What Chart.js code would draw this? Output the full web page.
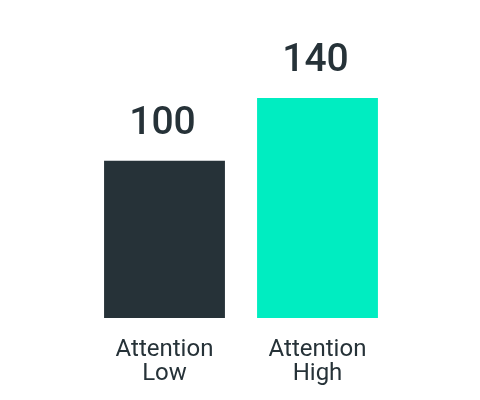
<!DOCTYPE html>
<html>
<head>
<meta charset="utf-8">
<script src="https://cdn.jsdelivr.net/npm/chart.js@4.4.0/dist/chart.umd.min.js"></script>
<style>
  html, body { margin: 0; padding: 0; background: #fff; }
  #wrap { width: 480px; height: 400px; }
</style>
</head>
<body>
<div id="wrap"><canvas id="barChart" width="480" height="400"></canvas></div>
<script>
'use strict';

var labels = [['Attention', 'Low'], ['Attention', 'High']];
var vals = [100, 140];
var barColors = ['#263238', '#00edc1'];

// value labels above each bar
var valueLabels = {
    id: 'valueLabels',
    afterDatasetsDraw: function (chart) {
        var ctx = chart.ctx;
        var meta = chart.getDatasetMeta(0);
        ctx.save();
        ctx.font = '500 39px Roboto';
        ctx.fillStyle = '#263238';
        ctx.textAlign = 'center';
        ctx.textBaseline = 'alphabetic';
        for (var i = 0; i < meta.data.length; ++i) {
            var bar = meta.data[i];
            ctx.fillText(String(vals[i]), bar.x - 2, bar.y - 27);
        }
        ctx.restore();
    }
};

var barChartCanvas = document.getElementById('barChart').getContext('2d');
var barChart = new Chart(barChartCanvas, {
    type: 'bar',
    data: {
        labels: labels,
        datasets: [
            {
                data: vals,
                backgroundColor: barColors,
                borderWidth: 0,
                categoryPercentage: 0.79,
                barPercentage: 1
            }
        ]
    },
    options: {
        responsive: false,
        animation: false,
        layout: {
            padding: { left: 88, right: 86, top: 98, bottom: 2 }
        },
        plugins: {
            legend: { display: false },
            tooltip: { enabled: false }
        },
        scales: {
            x: {
                grid: { display: false },
                border: { display: false },
                ticks: {
                    color: '#263238',
                    padding: 12,
                    font: { family: 'Roboto', size: 24, lineHeight: 1.0 }
                }
            },
            y: {
                display: false,
                min: 0,
                max: 140
            }
        }
    },
    plugins: [valueLabels]
});
</script>
</body>
</html>
